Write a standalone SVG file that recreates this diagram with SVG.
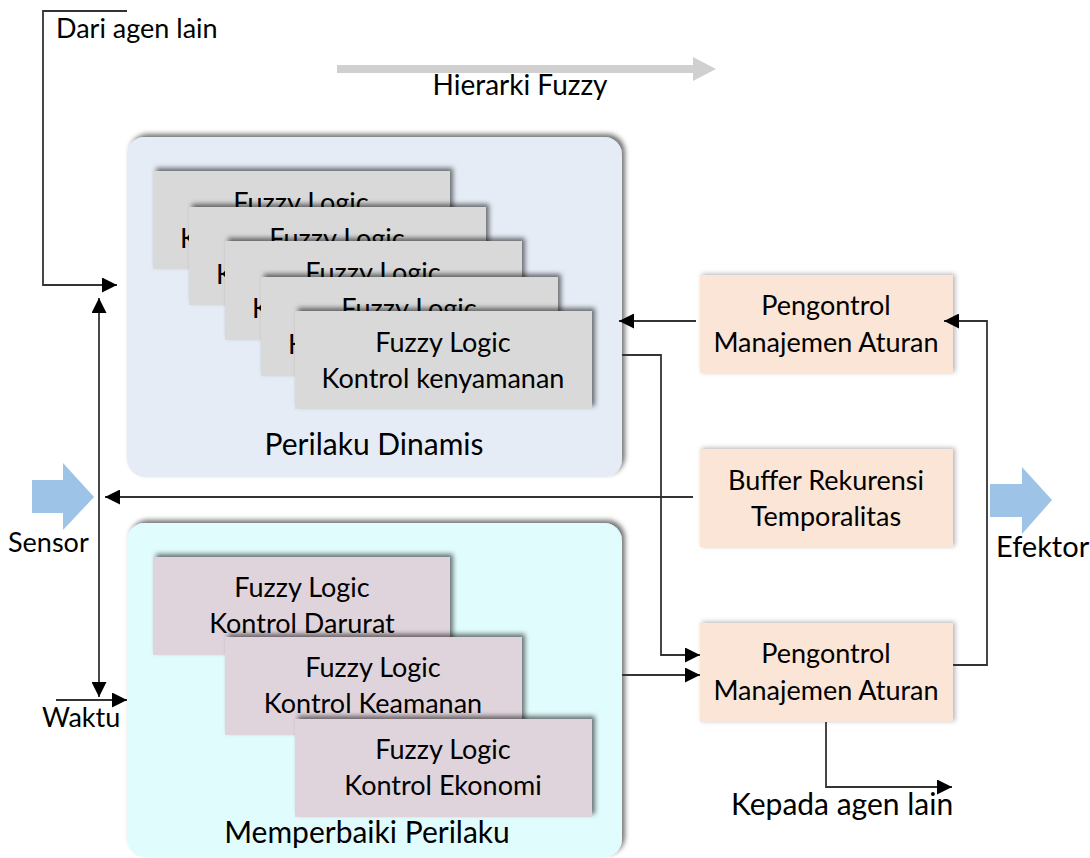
<svg xmlns="http://www.w3.org/2000/svg" width="1090" height="858" viewBox="0 0 1090 858">
  <defs>
    <filter id="shadow" x="-10%" y="-20%" width="120%" height="140%">
      <feDropShadow dx="3" dy="-3" stdDeviation="2.5" flood-color="#000" flood-opacity="0.55"/>
    </filter>
    <filter id="softshadow" x="-10%" y="-20%" width="120%" height="140%">
      <feDropShadow dx="2" dy="-1" stdDeviation="2.5" flood-color="#000" flood-opacity="0.3"/>
    </filter>
    <marker id="arrow" viewBox="0 0 15 15" refX="15" refY="7.5" markerWidth="15" markerHeight="15" markerUnits="userSpaceOnUse" orient="auto-start-reverse">
      <path d="M0,0 L15,7.5 L0,15 z" fill="#000"/>
    </marker>
    <style>
      text { font-family: Lato, "Open Sans", "Liberation Sans", sans-serif; font-size: 27px; fill: #000; }
      .mid { text-anchor: middle; }
      .big { font-size: 30px; }
      .wire { fill: none; stroke: #333; stroke-width: 1.8; }
      .grey { fill: #D9D9D9; filter: url(#shadow); }
      .mauve { fill: #E0D4DC; filter: url(#shadow); }
      .peach { fill: #FBE5D6; filter: url(#softshadow); }
      .bigarrow { fill: #9DC3E6; }
    </style>
  </defs>

  <rect width="1090" height="858" fill="#fff"/>

  <!-- hierarchy direction -->
  <g id="hierarki">
    <path d="M337,65 H693 V57 L716,69 L693,81 V73 H337 z" fill="#D0D0D0"/>
    <text x="520" y="95" class="mid" style="font-size:28px">Hierarki Fuzzy</text>
  </g>

  <!-- dynamic behaviour group -->
  <g id="perilaku-dinamis">
    <rect x="127" y="137" width="495" height="340" rx="18" fill="#E6ECF6" filter="url(#shadow)"/>
    <g id="fl-1">
      <rect x="153" y="171" width="297" height="98" class="grey"/>
      <text x="301" y="212" class="mid">Fuzzy Logic</text>
      <text x="180" y="248">K</text>
    </g>
    <g id="fl-2">
      <rect x="189" y="207" width="297" height="98" class="grey"/>
      <text x="337" y="248" class="mid">Fuzzy Logic</text>
      <text x="216" y="284">K</text>
    </g>
    <g id="fl-3">
      <rect x="225" y="241" width="297" height="99" class="grey"/>
      <text x="373" y="282" class="mid">Fuzzy Logic</text>
      <text x="252" y="318">K</text>
    </g>
    <g id="fl-4">
      <rect x="261" y="277" width="297" height="99" class="grey"/>
      <text x="409" y="318" class="mid">Fuzzy Logic</text>
      <text x="288" y="354">K</text>
    </g>
    <g id="fl-kenyamanan">
      <rect x="295" y="311" width="297" height="98" class="grey"/>
      <text x="443" y="352" class="mid">Fuzzy Logic</text>
      <text x="443" y="388" class="mid">Kontrol kenyamanan</text>
    </g>
    <text x="374" y="455" class="mid big">Perilaku Dinamis</text>
  </g>

  <!-- behaviour improvement group -->
  <g id="memperbaiki-perilaku">
    <rect x="127" y="523" width="495" height="334" rx="18" fill="#E1FCFD" filter="url(#shadow)"/>
    <g id="fl-darurat">
      <rect x="153" y="557" width="297" height="98" class="mauve"/>
      <text x="302" y="597" class="mid">Fuzzy Logic</text>
      <text x="302" y="633" class="mid">Kontrol Darurat</text>
    </g>
    <g id="fl-keamanan">
      <rect x="225" y="637" width="297" height="98" class="mauve"/>
      <text x="373" y="677" class="mid">Fuzzy Logic</text>
      <text x="373" y="713" class="mid">Kontrol Keamanan</text>
    </g>
    <g id="fl-ekonomi">
      <rect x="295" y="719" width="297" height="98" class="mauve"/>
      <text x="443" y="759" class="mid">Fuzzy Logic</text>
      <text x="443" y="795" class="mid">Kontrol Ekonomi</text>
    </g>
    <text x="367" y="843" class="mid big">Memperbaiki Perilaku</text>
  </g>

  <!-- right-hand controllers -->
  <g id="pengontrol-atas">
    <rect x="700" y="275" width="253" height="98" class="peach"/>
    <text x="826" y="315" class="mid">Pengontrol</text>
    <text x="826" y="352" class="mid">Manajemen Aturan</text>
  </g>
  <g id="buffer">
    <rect x="700" y="449" width="253" height="98" class="peach"/>
    <text x="826" y="490" class="mid">Buffer Rekurensi</text>
    <text x="826" y="526" class="mid">Temporalitas</text>
  </g>
  <g id="pengontrol-bawah">
    <rect x="700" y="623" width="253" height="99" class="peach"/>
    <text x="826" y="663" class="mid">Pengontrol</text>
    <text x="826" y="700" class="mid">Manajemen Aturan</text>
  </g>

  <!-- sensor and effector -->
  <g id="sensor">
    <path d="M32,480 H63 V463 L94,497 L63,530 V513 H32 z" class="bigarrow"/>
    <text x="8" y="552">Sensor</text>
  </g>
  <g id="efektor">
    <path d="M990,484 H1022 V467 L1052,500 L1022,534 V517 H990 z" class="bigarrow"/>
    <text x="996" y="557" style="font-size:29px">Efektor</text>
  </g>

  <!-- connectors -->
  <g id="connectors">
    <path d="M127,11 H43 V285 H117" class="wire" marker-end="url(#arrow)"/>
    <path d="M99,298 V697" class="wire" marker-start="url(#arrow)" marker-end="url(#arrow)"/>
    <path d="M56,700 H127" class="wire" marker-end="url(#arrow)"/>
    <path d="M693,497 H105" class="wire" marker-end="url(#arrow)"/>
    <path d="M696,321 H619" class="wire" marker-end="url(#arrow)"/>
    <path d="M622,355 H661 V655 H700" class="wire" marker-end="url(#arrow)"/>
    <path d="M622,675 H700" class="wire" marker-end="url(#arrow)"/>
    <path d="M953,665 H987 V321 H944" class="wire" marker-end="url(#arrow)"/>
    <path d="M826,722 V787 H952" class="wire" marker-end="url(#arrow)"/>
  </g>

  <!-- free labels -->
  <g id="labels">
    <text x="56" y="38">Dari agen lain</text>
    <text x="42" y="727">Waktu</text>
    <text x="731" y="815" class="big">Kepada agen lain</text>
  </g>
</svg>
